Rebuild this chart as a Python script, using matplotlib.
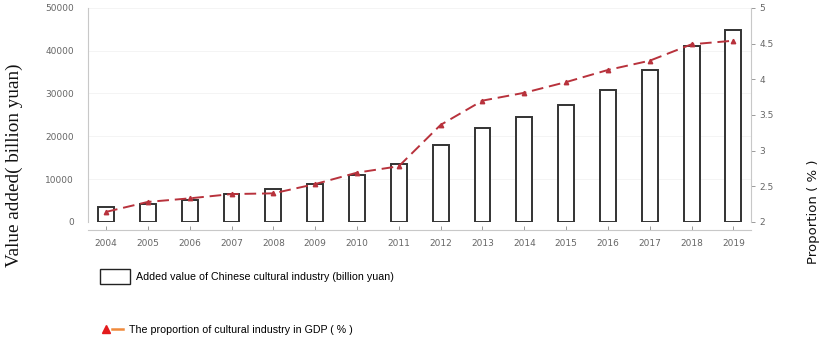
import numpy as np
import matplotlib
matplotlib.use("Agg")
import matplotlib.pyplot as plt
from matplotlib.patches import Patch
from matplotlib.lines import Line2D
from matplotlib.legend_handler import HandlerTuple

# values
years = [str(y) for y in range(2004, 2020)]
added_value = [3440, 4216, 5123, 6455, 7630, 8786, 11052, 13479,
               18071, 21870, 24538, 27235, 30785, 35462, 41171, 44800]
proportion = [2.14, 2.28, 2.33, 2.39, 2.40, 2.53, 2.69, 2.78,
              3.36, 3.70, 3.81, 3.96, 4.13, 4.26, 4.49, 4.54]

grey = "#8a8a8a"
line_red = "#b8323c"

fig = plt.figure(figsize=(8.23, 3.44), dpi=100)
ax = fig.add_axes([0.107, 0.355, 0.806, 0.622])
ax2 = ax.twinx()

x = np.arange(len(years))
ax.bar(x, added_value, width=0.38, facecolor="white", edgecolor="#333333",
       linewidth=1.4, zorder=2)
ax2.plot(x, proportion, color=line_red, linestyle=(0, (6, 3)), linewidth=1.4,
         marker="^", markersize=3.2, zorder=3)

ax.set_xlim(-0.43, 15.43)
ax.set_ylim(0, 50000)
ax.set_yticks(np.arange(0, 50001, 10000))
ax.set_xticks(x)
ax.set_xticklabels(years)
ax2.set_ylim(2, 5)
ax2.set_yticks([2, 2.5, 3, 3.5, 4, 4.5, 5])
ax2.set_yticklabels(["2", "2.5", "3", "3.5", "4", "4.5", "5"])

ax.grid(axis="y", color="#f2f2f2", linewidth=0.6, zorder=0)
ax.set_axisbelow(True)

for a in (ax, ax2):
    a.spines["top"].set_visible(False)
    a.tick_params(colors=grey, labelsize=6.5, length=3, width=0.6)
    for sp in a.spines.values():
        sp.set_color("#c8c8c8")
        sp.set_linewidth(0.8)

ax.spines["right"].set_visible(False)
ax2.spines["left"].set_visible(False)
ax2.spines["bottom"].set_visible(False)
ax.spines["bottom"].set_position(("outward", 6))
ax.tick_params(axis="x", direction="in", length=3, pad=6)
ax.tick_params(axis="y", length=0, pad=10)
ax2.tick_params(axis="y", length=3, pad=3)
for lab in ax.get_xticklabels() + ax.get_yticklabels() + ax2.get_yticklabels():
    lab.set_color("#666666")

# axis titles sit lower than the axes centre in the reference
fig.text(0.017, 0.52, "Value added( billion yuan)", family="Liberation Serif",
         fontsize=13.8, rotation=90, ha="center", va="center", color="#111111")
fig.text(0.988, 0.385, "Proportion ( % )", family="DejaVu Sans",
         fontsize=9.5, rotation=90, ha="center", va="center", color="#111111")

# legend rows below the plot
h1 = Patch(facecolor="white", edgecolor="#222222", linewidth=1.0)
fig.legend([h1], ["Added value of Chinese cultural industry (billion yuan)"],
           loc="center left", bbox_to_anchor=(0.121, 0.195), frameon=False,
           handlelength=2.8, handleheight=1.8, handletextpad=0.6,
           borderaxespad=0, borderpad=0,
           prop={"family": "Liberation Sans", "size": 7.7})
tri = Line2D([], [], color="#e31a1c", marker="^", markersize=5.5, linestyle="none")
ln = Line2D([], [], color="#f08a3c", linewidth=1.8)
fig.legend([(tri, ln)], ["The proportion of cultural industry in GDP ( % )"],
           handler_map={tuple: HandlerTuple(ndivide=None, pad=0)},
           loc="center left", bbox_to_anchor=(0.122, 0.042), frameon=False,
           handlelength=2.1, handletextpad=0.6,
           borderaxespad=0, borderpad=0,
           prop={"family": "Liberation Sans", "size": 7.7})

fig.savefig("out.png", dpi=100)
